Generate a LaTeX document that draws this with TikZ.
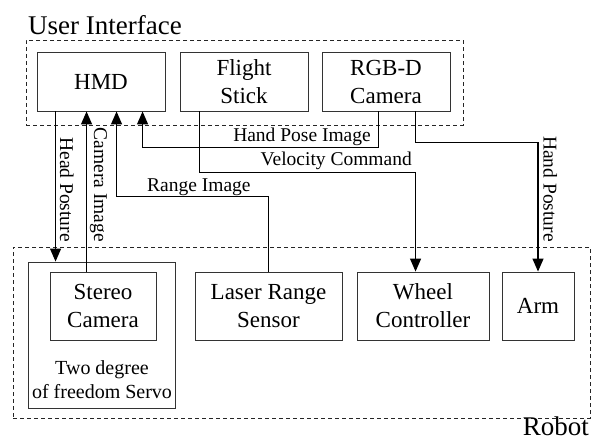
\documentclass[tikz,border=0pt]{standalone}
\usepackage{fontspec}
\setmainfont{Liberation Serif}
\usetikzlibrary{arrows.meta}
\begin{document}
\begin{tikzpicture}[x=1pt,y=-1pt,
  box/.style={draw=black!80, line width=0.9pt, inner sep=0pt, align=center,
    font=\fontsize{23}{28}\selectfont},
  group/.style={draw=black!85, line width=0.8pt, dash pattern=on 4pt off 3pt,
    inner sep=0pt},
  link/.style={line width=1.3pt, -{Triangle[length=13pt,width=11pt]}},
  lbl/.style={inner sep=0pt, font=\fontsize{19.5}{22}\selectfont},
  vlbl/.style={lbl, rotate=-90, anchor=base east},
  title/.style={inner sep=0pt, font=\fontsize{27}{30}\selectfont}]

\useasboundingbox (0,0) rectangle (591,441);

% groups
\node[group, minimum width=437pt, minimum height=85pt] (ui) at (244.5,82.5) {};
\node[title, anchor=base west] (uititle) at (28,35) {User Interface};
\node[group, minimum width=577pt, minimum height=171pt] (robot) at (301.5,332.5) {};
\node[title, anchor=base east] (robottitle) at (589,435.5) {Robot};

% user interface devices
\node[box, minimum width=128pt, minimum height=59pt] (hmd) at (101,81.5) {HMD};
\node[box, minimum width=128pt, minimum height=59pt] (flight) at (244,81.5) {Flight\\Stick};
\node[box, minimum width=128pt, minimum height=59pt] (rgbd) at (386,81.5) {RGB-D\\Camera};

% robot components
\node[box, minimum width=147pt, minimum height=146pt] (servo) at (101.5,335) {};
\node[inner sep=0pt, align=center, font=\fontsize{20}{24}\selectfont] (servotext) at (102,379.5)
  {Two degree\\of freedom Servo};
\node[box, minimum width=106pt, minimum height=68pt] (stereo) at (103,306) {Stereo\\Camera};
\node[box, minimum width=147pt, minimum height=68pt] (laser) at (268.5,306) {Laser Range\\Sensor};
\node[box, minimum width=132pt, minimum height=68pt] (wheel) at (423,306) {Wheel\\Controller};
\node[box, minimum width=72pt, minimum height=68pt] (arm) at (538,306) {Arm};

% data flows
\draw[link] ([xshift=19pt]hmd.south west) -- ([xshift=28pt]servo.north west);
\draw[link] ([xshift=37pt]stereo.north west) -- ([xshift=50pt]hmd.south west);
\draw[link] (laser.north) -- ++(0,-75) -| ([xshift=80pt]hmd.south west);
\draw[link] ([xshift=57pt]rgbd.south west) -- ++(0,36) -| ([xshift=106pt]hmd.south west);
\draw[link] ([xshift=20pt]flight.south west) -- ++(0,61) -| ([xshift=59pt]wheel.north west);
\draw[link] ([xshift=94pt]rgbd.south west) -- ++(0,31) -| (arm.north);

% flow labels
\node[vlbl] (headlbl) at (60,242) {Head Posture};
\node[vlbl] (camlbl) at (94,242) {Camera Image};
\node[vlbl] (handlbl) at (543.5,242) {Hand Posture};
\node[lbl, anchor=base east] (poselbl) at (371,142) {Hand Pose Image};
\node[lbl, anchor=base east] (vellbl) at (412,165) {Velocity Command};
\node[lbl, anchor=base west] (rangelbl) at (147,191.5) {Range Image};
\end{tikzpicture}
\end{document}
